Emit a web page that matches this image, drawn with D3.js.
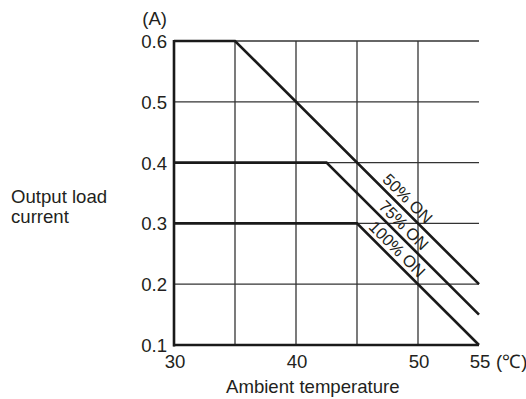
<!DOCTYPE html>
<html>
<head>
<meta charset="utf-8">
<script src="https://cdn.jsdelivr.net/npm/d3@7"></script>
<style>
  body { margin: 0; background: #fff; }
  svg text { font-family: "Liberation Sans", Arial, sans-serif; fill: #231f20; }
</style>
</head>
<body>
<svg id="chart" width="526" height="399"></svg>
<script>
// ---- data ----
const xTicks = [30, 35, 40, 45, 50, 55];
const xTickLabels = ["30", "", "40", "", "50", "55"];
const yTicks = [0.1, 0.2, 0.3, 0.4, 0.5, 0.6];
const yTickLabels = ["0.1", "0.2", "0.3", "0.4", "0.5", "0.6"];
const seriesNames = ["50% ON", "75% ON", "100% ON"];
const series50 = [[30, 0.6], [35, 0.6], [55, 0.2]];
const series75 = [[30, 0.4], [42.5, 0.4], [55, 0.15]];
const series100 = [[30, 0.3], [45, 0.3], [55, 0.1]];
const labelTemps = [48.55, 48.24, 47.7];
const xUnit = "(℃)";
const yUnit = "(A)";
const xTitle = "Ambient temperature";
const yTitle = ["Output load", "current"];

// ---- layout ----
const svg = d3.select("#chart");
const x = d3.scaleLinear().domain([30, 55]).range([174, 479]);
const y = d3.scaleLinear().domain([0.1, 0.6]).range([345, 41]);
const ink = "#1a1a1a";
const fs = 18.6;

// grid
svg.append("g").selectAll("line.v").data(xTicks.filter(t => t > 30 && t < 55)).join("line")
  .attr("x1", d => x(d)).attr("x2", d => x(d)).attr("y1", y(0.1)).attr("y2", y(0.6))
  .attr("stroke", "#333").attr("stroke-width", 1.3);
svg.append("g").selectAll("line.h").data(yTicks.filter(t => t > 0.1)).join("line")
  .attr("x1", x(30)).attr("x2", x(55)).attr("y1", d => y(d)).attr("y2", d => y(d))
  .attr("stroke", "#333").attr("stroke-width", 1.3);

// axes (frame)
svg.append("line").attr("x1", x(30)).attr("x2", x(30)).attr("y1", y(0.6) - 1).attr("y2", y(0.1) + 1.5)
  .attr("stroke", ink).attr("stroke-width", 2.6);
svg.append("line").attr("x1", x(30) - 1).attr("x2", x(55)).attr("y1", y(0.1)).attr("y2", y(0.1))
  .attr("stroke", ink).attr("stroke-width", 2.6);

// y tick labels
svg.append("g").selectAll("text").data(yTicks).join("text")
  .attr("x", x(30) - 7).attr("y", d => y(d) + 7)
  .attr("text-anchor", "end").attr("font-size", fs)
  .text((d, i) => yTickLabels[i]);

// x tick labels
svg.append("g").selectAll("text").data(xTicks).join("text")
  .attr("x", d => x(d) + 1).attr("y", y(0.1) + 23)
  .attr("text-anchor", "middle").attr("font-size", fs)
  .text((d, i) => xTickLabels[i]);
svg.append("text").attr("x", x(55) + 17).attr("y", y(0.1) + 23)
  .attr("font-size", fs).text(xUnit);

// units and titles
svg.append("text").attr("x", x(30) - 7).attr("y", 25).attr("text-anchor", "end")
  .attr("font-size", fs).text(yUnit);
svg.append("text").attr("x", 226).attr("y", 393).attr("font-size", fs).text(xTitle);
svg.append("text").attr("x", 11).attr("y", 203).attr("font-size", fs)
  .selectAll("tspan").data(yTitle).join("tspan")
  .attr("x", 11).attr("dy", (d, i) => i === 0 ? 0 : 20).text(d => d);

// data lines
const line = d3.line().x(d => x(d[0])).y(d => y(d[1]));
const allSeries = [series50, series75, series100];
svg.append("g").selectAll("path").data(allSeries).join("path")
  .attr("d", line).attr("fill", "none").attr("stroke", ink)
  .attr("stroke-width", 2.6).attr("stroke-linejoin", "miter");

// rotated labels along lines
function valueAt(s, t) {
  for (let i = 0; i < s.length - 1; i++) {
    if (t >= s[i][0] && t <= s[i + 1][0]) {
      const f = (t - s[i][0]) / (s[i + 1][0] - s[i][0]);
      return s[i][1] + f * (s[i + 1][1] - s[i][1]);
    }
  }
  return s[s.length - 1][1];
}
allSeries.forEach((s, i) => {
  const a = s[1], b = s[2];
  const ang = Math.atan2(y(b[1]) - y(a[1]), x(b[0]) - x(a[0])) * 180 / Math.PI;
  const t = labelTemps[i];
  svg.append("text")
    .attr("transform", `translate(${x(t)},${y(valueAt(s, t))}) rotate(${ang})`)
    .attr("x", 0).attr("y", -4.5)
    .attr("text-anchor", "middle").attr("font-size", 16.5)
    .text(seriesNames[i]);
});
</script>
</body>
</html>
